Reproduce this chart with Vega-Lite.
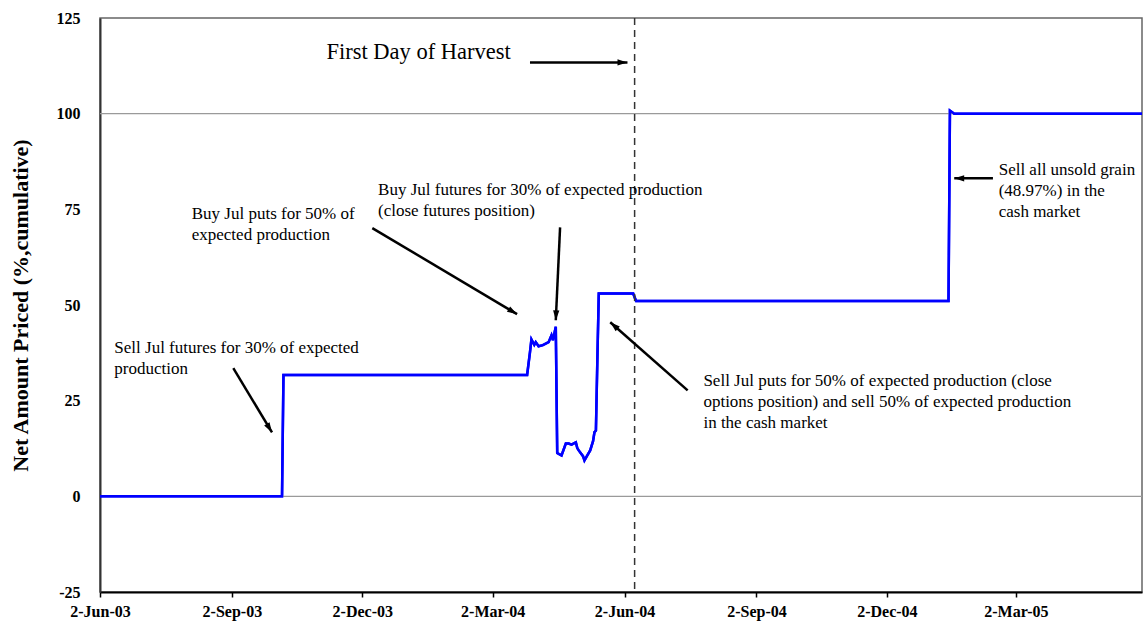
{
  "$schema": "https://vega.github.io/schema/vega-lite/v6.json",
  "width": 1042,
  "height": 574,
  "autosize": {"type": "none"},
  "padding": {"left": 100, "top": 18, "right": 3, "bottom": 36},
  "background": "white",
  "config": {
    "view": {"stroke": "#666666", "strokeWidth": 1.5},
    "font": "Liberation Serif",
    "axis": {
      "labelFont": "Liberation Serif",
      "labelFontWeight": "bold",
      "labelFontSize": 16,
      "labelColor": "#000000",
      "labelFlush": false,
      "labelOverlap": false,
      "titleFont": "Liberation Serif",
      "titleFontWeight": "bold",
      "titleColor": "#000000",
      "grid": false,
      "zindex": 1
    },
    "axisX": {
      "labelPadding": 6,
      "tickSize": 5,
      "tickColor": "#000000",
      "tickWidth": 1.5,
      "domainColor": "#000000",
      "domainWidth": 2
    },
    "axisY": {
      "labelPadding": 20,
      "ticks": false,
      "tickSize": 0,
      "domainColor": "#333333",
      "domainWidth": 2
    }
  },
  "datasets": {
    "series": [
      {"date": "2003-06-02", "value": 0},
      {"date": "2003-10-07", "value": 0},
      {"date": "2003-10-08", "value": 31.7},
      {"date": "2004-03-26", "value": 31.7},
      {"date": "2004-03-28", "value": 37.7},
      {"date": "2004-03-29", "value": 41.0},
      {"date": "2004-03-31", "value": 39.6},
      {"date": "2004-04-01", "value": 40.3},
      {"date": "2004-04-03", "value": 39.2},
      {"date": "2004-04-06", "value": 39.5},
      {"date": "2004-04-10", "value": 40.3},
      {"date": "2004-04-12", "value": 42.1},
      {"date": "2004-04-13", "value": 40.8},
      {"date": "2004-04-15", "value": 44.3},
      {"date": "2004-04-16", "value": 11.3},
      {"date": "2004-04-18", "value": 10.9},
      {"date": "2004-04-19", "value": 10.7},
      {"date": "2004-04-22", "value": 13.8},
      {"date": "2004-04-24", "value": 13.8},
      {"date": "2004-04-26", "value": 13.5},
      {"date": "2004-04-29", "value": 14.1},
      {"date": "2004-04-30", "value": 12.6},
      {"date": "2004-05-01", "value": 12.0},
      {"date": "2004-05-04", "value": 10.5},
      {"date": "2004-05-05", "value": 9.4},
      {"date": "2004-05-07", "value": 10.7},
      {"date": "2004-05-09", "value": 12.0},
      {"date": "2004-05-11", "value": 14.4},
      {"date": "2004-05-12", "value": 16.8},
      {"date": "2004-05-13", "value": 17.2},
      {"date": "2004-05-14", "value": 35.6},
      {"date": "2004-05-15", "value": 53.0},
      {"date": "2004-06-08", "value": 53.0},
      {"date": "2004-06-10", "value": 51.03},
      {"date": "2005-01-14", "value": 51.03},
      {"date": "2005-01-15", "value": 100.8},
      {"date": "2005-01-18", "value": 100.0},
      {"date": "2005-05-29", "value": 100.0}
    ],
    "gridlevels": [{"level": 0}, {"level": 100}],
    "harvest": [{"date": "2004-06-09"}],
    "arrows": [
      {"x1": "2004-03-28", "y1": 113.4, "x2": "2004-06-04", "y2": 113.4},
      {"x1": "2003-12-09", "y1": 70.1, "x2": "2004-03-19", "y2": 47.6},
      {"x1": "2004-04-18", "y1": 70.3, "x2": "2004-04-15", "y2": 46.0},
      {"x1": "2003-09-03", "y1": 33.5, "x2": "2003-09-30", "y2": 16.7},
      {"x1": "2004-07-16", "y1": 27.7, "x2": "2004-05-23", "y2": 45.5},
      {"x1": "2005-02-14", "y1": 83.1, "x2": "2005-01-18", "y2": 83.1}
    ],
    "title": [{"date": "2003-11-07", "value": 114.4, "label": "First Day of Harvest"}],
    "notes": [
      {"date": "2003-08-05", "value": 72.4, "label": "Buy Jul puts for 50% of\nexpected production"},
      {"date": "2003-12-13", "value": 78.7, "label": "Buy Jul futures for 30% of expected production\n(close futures position)"},
      {"date": "2003-06-12", "value": 37.4, "label": "Sell Jul futures for 30% of expected\nproduction"},
      {"date": "2004-07-27", "value": 28.8, "label": "Sell Jul puts for 50% of expected production (close\noptions position) and sell 50% of expected production\nin the cash market"},
      {"date": "2005-02-18", "value": 83.9, "label": "Sell all unsold grain\n(48.97%) in the\ncash market"}
    ]
  },
  "layer": [
    {
      "data": {"name": "series"},
      "mark": {"type": "line", "stroke": "#0000ff", "strokeWidth": 2.5, "interpolate": "linear"},
      "encoding": {
        "x": {
          "field": "date", "type": "temporal",
          "scale": {"type": "utc", "domain": [{"year": 2003, "month": 6, "date": 2, "utc": true}, {"year": 2005, "month": 5, "date": 29, "utc": true}]},
          "axis": {
            "title": null,
            "values": [
              {"year": 2003, "month": 6, "date": 2, "utc": true},
              {"year": 2003, "month": 9, "date": 2, "utc": true},
              {"year": 2003, "month": 12, "date": 2, "utc": true},
              {"year": 2004, "month": 3, "date": 2, "utc": true},
              {"year": 2004, "month": 6, "date": 2, "utc": true},
              {"year": 2004, "month": 9, "date": 2, "utc": true},
              {"year": 2004, "month": 12, "date": 2, "utc": true},
              {"year": 2005, "month": 3, "date": 2, "utc": true}
            ],
            "format": "%-d-%b-%y"
          }
        },
        "y": {
          "field": "value", "type": "quantitative",
          "scale": {"domain": [-25, 125], "nice": false, "zero": false},
          "axis": {
            "title": "Net Amount Priced (%,cumulative)",
            "titleFontSize": 22,
            "titleAngle": 270,
            "titleAlign": "center",
            "titleBaseline": "middle",
            "titleX": -80,
            "titleY": 287,
            "values": [-25, 0, 25, 50, 75, 100, 125],
            "labelExpr": "replace(datum.label, '\u2212', '-')"
          }
        }
      }
    },
    {
      "data": {"name": "gridlevels"},
      "mark": {"type": "rule", "stroke": "#9a9a9a", "strokeWidth": 1.2},
      "encoding": {
        "y": {"field": "level", "type": "quantitative"}
      }
    },
    {
      "data": {"name": "series"},
      "mark": {"type": "line", "stroke": "#0000ff", "strokeWidth": 2.5, "interpolate": "linear"},
      "encoding": {
        "x": {"field": "date", "type": "temporal"},
        "y": {"field": "value", "type": "quantitative"}
      }
    },
    {
      "data": {"name": "harvest"},
      "mark": {"type": "rule", "stroke": "#333333", "strokeWidth": 1.5, "strokeDash": [7, 5]},
      "encoding": {
        "x": {"field": "date", "type": "temporal"}
      }
    },
    {
      "data": {"name": "arrows"},
      "mark": {"type": "rule", "stroke": "#000000", "strokeWidth": 2.5},
      "encoding": {
        "x": {"field": "x1", "type": "temporal"},
        "x2": {"field": "x2"},
        "y": {"field": "y1", "type": "quantitative"},
        "y2": {"field": "y2"}
      }
    },
    {
      "data": {"name": "arrows"},
      "transform": [
        {"calculate": "atan2((time(toDate(datum.x2)) - time(toDate(datum.x1))) / 86400000 * 1.4344, (datum.y2 - datum.y1) * 3.827) * 180 / PI", "as": "ang"}
      ],
      "mark": {"type": "point", "shape": "M0,0L0.6,1.9L-0.6,1.9Z", "filled": true, "fill": "#000000", "stroke": null, "size": 110, "opacity": 1},
      "encoding": {
        "x": {"field": "x2", "type": "temporal"},
        "y": {"field": "y2", "type": "quantitative"},
        "angle": {"field": "ang", "type": "quantitative", "scale": null}
      }
    },
    {
      "data": {"name": "title"},
      "mark": {"type": "text", "align": "left", "baseline": "alphabetic", "font": "Liberation Serif", "fontSize": 22.5, "fill": "#000000"},
      "encoding": {
        "x": {"field": "date", "type": "temporal"},
        "y": {"field": "value", "type": "quantitative"},
        "text": {"field": "label"}
      }
    },
    {
      "data": {"name": "notes"},
      "mark": {"type": "text", "align": "left", "baseline": "alphabetic", "font": "Liberation Serif", "fontSize": 17, "lineBreak": "\n", "lineHeight": 21, "fill": "#000000"},
      "encoding": {
        "x": {"field": "date", "type": "temporal"},
        "y": {"field": "value", "type": "quantitative"},
        "text": {"field": "label"}
      }
    }
  ]
}
